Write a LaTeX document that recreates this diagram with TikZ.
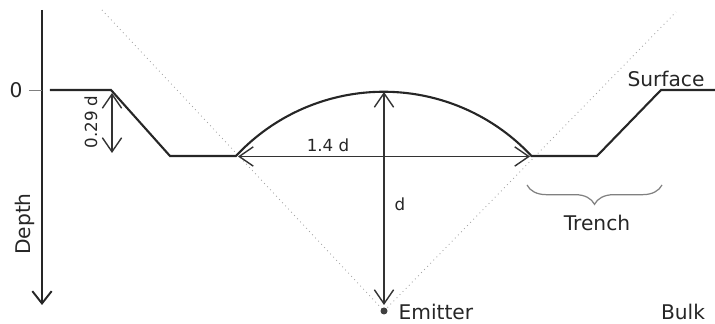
\documentclass[tikz,border=0pt]{standalone}
\usepackage{fontspec}
\setmainfont{DejaVu Sans}
\usepackage{tikz}
\usetikzlibrary{arrows.meta, decorations.pathreplacing}

\begin{document}
\begin{tikzpicture}[line width=0.8pt,
    profile/.style={line width=1.2pt, black!85},
    dim/.style={{Straight Barb[length=8pt,width=11pt]}-{Straight Barb[length=8pt,width=11pt]}, black!80},
    cone/.style={gray!70, dotted, line width=0.5pt},
    big/.style={font=\fontsize{11.5}{13}\selectfont, text=black!85},
    small/.style={font=\fontsize{9.5}{11}\selectfont, text=black!85}]
            \useasboundingbox (-7.68,-0.26) rectangle (6.62,6.22);
            % emitter and cone
            \coordinate (emitter) at (0,0);
            \coordinate (coneL) at (-5.64,6.02);
            \coordinate (coneR) at (5.84,5.98);
            \draw[cone] (coneL) -- (emitter) -- (coneR);
            \fill[black!75] (emitter) circle (0.07);
            \node[big, right] (emit) at (0.16,-0.02) {Emitter};
            % depth axis
            \coordinate (axtop) at (-6.84,6.02);
            \coordinate (axbot) at (-6.84,0.12);
            \draw[-{Straight Barb[length=7pt,width=11pt]}, line width=1.1pt, black!85] (axtop) -- (axbot);
            \node[big, rotate=90] (depth) at (-7.18,1.74) {Depth};
            \coordinate (tick) at (-6.84,4.42);
            \node[big] (zero) at (-7.36,4.42) {0};
            \draw[gray, line width=0.5pt] (zero.east) -- (tick);
            % surface with trench and crater
            \coordinate (s1) at (-6.68,4.42);
            \coordinate (s2) at (-5.46,4.42);
            \coordinate (s3) at (-4.28,3.10);
            \coordinate (cl) at (-2.96,3.10);
            \coordinate (cr) at (2.94,3.10);
            \coordinate (s4) at (4.26,3.10);
            \coordinate (s5) at (5.54,4.42);
            \coordinate (s6) at (6.62,4.42);
            \draw[profile] (s1) -- (s2) -- (s3) -- (cl) arc[start angle=137, end angle=43, radius=4.04] -- (s4) -- (s5) -- (s6);
            \node[big] (surf) at (5.64,4.64) {Surface};
            % dimensions
            \coordinate (ctop) at (0,4.38);
            \coordinate (dbot) at (0,0.12);
            \draw[dim] (ctop) -- (dbot);
            \node[small, right] (dlab) at (0.08,2.14) {d};
            \coordinate (wl) at (-2.92,3.09);
            \coordinate (wr) at (2.92,3.09);
            \draw[dim] (wl) -- (wr);
            \node[small] (wlab) at (-1.12,3.32) {1.4 d};
            \coordinate (tt) at (-5.44,4.36);
            \coordinate (tb) at (-5.44,3.16);
            \draw[dim] (tt) -- (tb);
            \node[small, rotate=90] (tlab) at (-5.86,3.78) {0.29 d};
            % trench brace
            \coordinate (bl) at (2.86,2.52);
            \coordinate (br) at (5.56,2.52);
            \draw[gray, line width=0.7pt, decorate, decoration={brace, amplitude=11pt, mirror}] (bl) -- (br);
            \node[big] (trench) at (4.26,1.76) {Trench};
            \node[big] (bulk) at (5.98,-0.02) {Bulk};
        \end{tikzpicture}
\end{document}
